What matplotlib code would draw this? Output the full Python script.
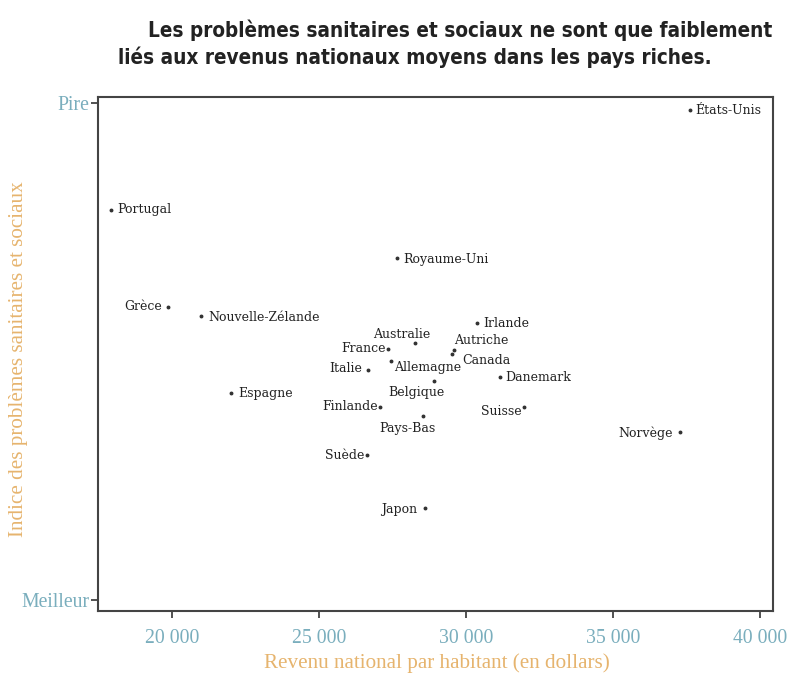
import matplotlib
matplotlib.use("Agg")
import matplotlib.pyplot as plt

# ---- data ----
countries = ["États-Unis", "Portugal", "Royaume-Uni", "Grèce", "Nouvelle-Zélande",
             "Irlande", "Australie", "France", "Autriche", "Canada", "Italie",
             "Allemagne", "Danemark", "Belgique", "Espagne", "Finlande", "Suisse",
             "Pays-Bas", "Norvège", "Suède", "Japon"]
income = [37620, 17925, 27650, 19860, 20990,
          30370, 28265, 27350, 29600, 29530, 26670,
          27450, 31160, 28910, 22010, 27080, 31970,
          28540, 37280, 26630, 28600]
index = [98.6, 78.5, 68.8, 59.0, 57.1,
         55.7, 51.7, 50.5, 50.3, 49.5, 46.3,
         48.1, 44.9, 44.1, 41.6, 38.8, 38.8,
         37.0, 33.8, 29.2, 18.5]
x_ticks = [20000, 25000, 30000, 35000, 40000]
x_ticklabels = ["20 000", "25 000", "30 000", "35 000", "40 000"]
y_ticks = [0, 100]
y_ticklabels = ["Meilleur", "Pire"]

# label placement (pixel offsets, horizontal alignment) -- style only
label_style = {
    "États-Unis": (6, 0, "left"), "Portugal": (6, 0, "left"),
    "Royaume-Uni": (6, -1, "left"), "Grèce": (-6, 0, "right"),
    "Nouvelle-Zélande": (7, -1, "left"), "Irlande": (7, 0, "left"),
    "Australie": (-13, 9, "center"), "France": (-2, 1, "right"),
    "Autriche": (27, 10, "center"), "Canada": (10, -6, "left"),
    "Italie": (-6, 1, "right"), "Allemagne": (3, -6, "left"),
    "Danemark": (5, -1, "left"), "Belgique": (-17, -12, "center"),
    "Espagne": (7, 0, "left"), "Finlande": (-2, 1, "right"),
    "Suisse": (-2, -4, "right"), "Pays-Bas": (-16, -12, "center"),
    "Norvège": (-7, -1, "right"), "Suède": (-2, -1, "right"),
    "Japon": (-8, -1, "right"),
}

fig = plt.figure(figsize=(7.9, 6.78), dpi=100)
ax = fig.add_axes([0.124, 0.0988, 0.854, 0.758])

ax.plot(income, index, linestyle="none", marker="o", markersize=1.8,
        color="#333333")
for c, x, y in zip(countries, income, index):
    dx, dy, ha = label_style[c]
    ax.annotate(c, (x, y), xytext=(dx, dy), textcoords="offset pixels",
                ha=ha, va="center", fontsize=9, family="DejaVu Serif",
                color="#222222")

ax.set_xlim(17480, 40440)
ax.set_ylim(-2.2, 101.2)
ax.set_xticks(x_ticks)
ax.set_xticklabels(x_ticklabels, family="Liberation Serif", fontsize=14.2,
                   color="#7aaebd")
ax.set_yticks(y_ticks)
ax.set_yticklabels(y_ticklabels, family="Liberation Serif", fontsize=14.2,
                   color="#7aaebd")
ax.tick_params(axis="both", direction="out", length=5, width=1.2,
               color="#333333", pad=1)
ax.tick_params(axis="x", pad=8)
for s in ax.spines.values():
    s.set_color("#444444")
    s.set_linewidth(1.5)

fig.text(0.553, 0.022, "Revenu national par habitant (en dollars)",
         family="Liberation Serif", fontsize=15.2, color="#e6b46e",
         ha="center", va="center")
fig.text(0.024, 0.47, "Indice des problèmes sanitaires et sociaux",
         family="Liberation Serif", fontsize=15.2, color="#e6b46e",
         ha="center", va="center", rotation=90)

title_font = dict(family="DejaVu Sans", fontstretch="condensed",
                  fontweight="bold", fontsize=14.9, color="#222222",
                  ha="left", va="center")
fig.text(148 / 790, 1 - 30 / 678,
         "Les problèmes sanitaires et sociaux ne sont que faiblement",
         **title_font)
fig.text(118 / 790, 1 - 57 / 678,
         "liés aux revenus nationaux moyens dans les pays riches.",
         **title_font)

fig.savefig("out.png", dpi=100)
